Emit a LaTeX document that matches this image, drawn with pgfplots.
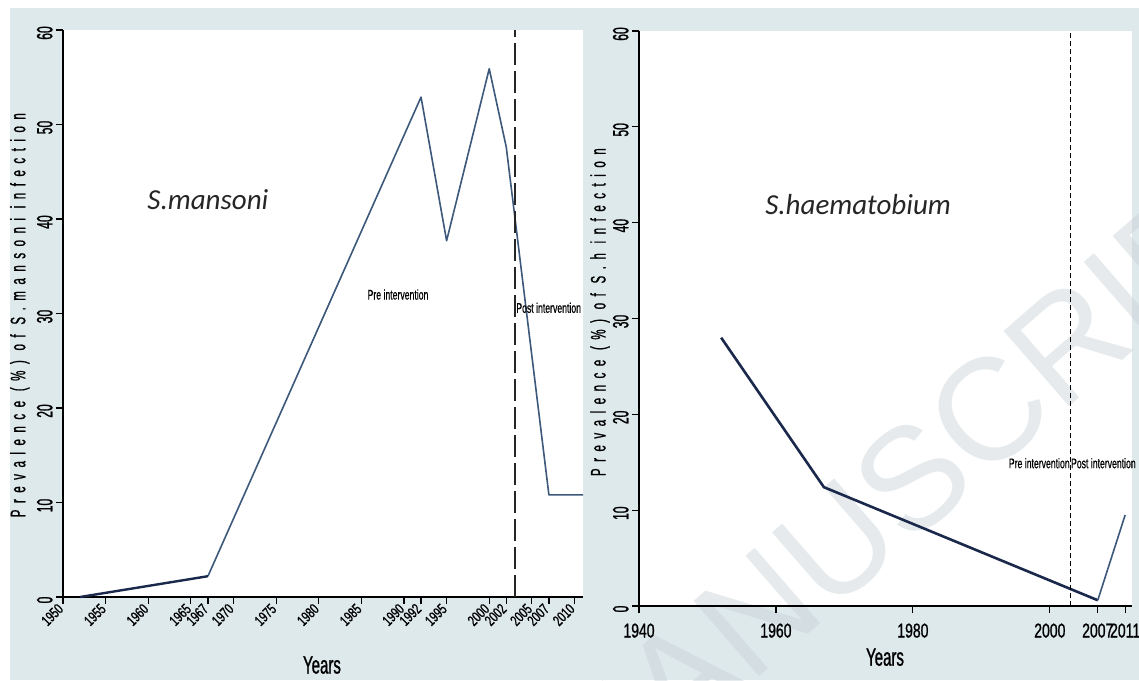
\documentclass[border=0pt]{standalone}
\usepackage{pgfplots}
\pgfplotsset{compat=1.18}
\usepackage{fontspec}
\setmainfont{Liberation Sans}
\newfontfamily\ytickf[FakeStretch=0.55,FakeBold=1]{Liberation Sans}
\newfontfamily\xtickf[FakeStretch=0.7,FakeBold=1]{Liberation Sans}
\newfontfamily\xtickfs[FakeStretch=0.7,FakeBold=1]{Liberation Sans}
\newfontfamily\titlef[FakeStretch=0.55,LetterSpace=31,FakeBold=0.8]{Liberation Sans}
\newfontfamily\yearsf[FakeStretch=0.6,FakeBold=1]{Liberation Sans}
\newfontfamily\annf[FakeStretch=0.62,FakeBold=0.5]{Liberation Sans}
\newfontfamily\spf{Carlito}
\definecolor{bgc}{RGB}{222,233,236}
\definecolor{navy}{RGB}{25,40,75}
\definecolor{steel}{RGB}{60,88,122}
\definecolor{wm}{RGB}{200,210,214}
\begin{document}
\begin{tikzpicture}[x=1pt,y=1pt]
\useasboundingbox (0,0) rectangle (1139,680);
\fill[white] (0,0) rectangle (1139,680);
\fill[bgc] (10,0) rectangle (1139,672);
\fill[white] (639,74) rectangle (1132,649);
\pgfplotsset{
 schisto/.style={
  scale only axis, anchor=south west, clip=false,
  axis lines=left, axis line style={-, black, line width=1.3pt},
  axis background/.style={fill=white},
  tick align=outside, major tick length=7pt,
  every tick/.style={black, line width=1.2pt},
  ymin=0, ymax=60, ytick={0,10,20,30,40,50,60},
  yticklabels={0,10,20,30,40,50,60},
  yticklabel style={font=\fontsize{22}{22}\selectfont\ytickf, rotate=90, anchor=south, xshift=-3pt},
  xlabel={Years},
  xlabel style={font=\fontsize{25}{25}\selectfont\yearsf, anchor=center},
  ylabel style={font=\fontsize{21}{21}\selectfont\titlef, anchor=center, rotate=0},
 }
}
\begin{axis}[schisto, at={(63pt,83pt)}, width=520pt, height=567pt,
  xmin=1950, xmax=2011,
  xtick={1950,1955,1960,1965,1967,1970,1975,1980,1985,1990,1992,1995,2000,2002,2005,2007,2010},
  xticklabels={1950,1955,1960,1965,1967,1970,1975,1980,1985,1990,1992,1995,2000,2002,2005,2007,2010},
  xticklabel style={font=\fontsize{15}{15}\selectfont\xtickfs, rotate=45, anchor=east},
  xlabel style={at={(axis description cs:0.498,-0.12)}},
  ylabel={Prevalence (\%) of S.mansoni infection},
  ylabel style={at={(axis description cs:-0.083,0.497)}},
]
\addplot[steel, line width=1.6pt, line join=round] coordinates {(1967,2.2)(1992,52.9)(1995,37.7)(2000,55.9)(2002,47.6)(2007,10.8)(2011,10.8)};
\addplot[navy, line width=2.4pt] coordinates {(1952,0)(1967,2.2)};
\addplot[black!85, line width=2.2pt, dash pattern=on 22pt off 6pt] coordinates {(2003,0)(2003,60)};
\node[font=\fontsize{29}{29}\selectfont\spf\itshape, text=black!85] at (axis cs:1967,42) {S.mansoni};
\node[font=\fontsize{14}{14}\selectfont\annf] at (axis cs:1989.3,32) {Pre intervention};
\node[font=\fontsize{14}{14}\selectfont\annf, anchor=west, inner sep=0.5pt] at (axis cs:2003.1,30.6) {Post intervention};
\end{axis}
\begin{scope}
\clip (0,0) rectangle (1139,680);
\node[font=\fontsize{145}{145}\selectfont, text=wm, opacity=0.45, rotate=41] at (915,205) {MANUSCRIPT};
\end{scope}
\begin{axis}[schisto, at={(639pt,74pt)}, width=493pt, height=575pt,
  xmin=1940, xmax=2012,
  axis background/.style={},
  xtick={1940,1960,1980,2000,2007,2011},
  xticklabels={1940,1960,1980,2000,2007,2011},
  xticklabel style={font=\fontsize{20}{20}\selectfont\xtickf, anchor=north, yshift=-7pt},
  xlabel style={at={(axis description cs:0.499,-0.089)}},
  ylabel={Prevalence (\%) of S.h infection},
  ylabel style={at={(axis description cs:-0.079,0.511)}},
]
\addplot[navy, line width=2.6pt, line join=round] coordinates {(1952,28)(1967,12.4)(2007,0.6)};
\addplot[steel, line width=1.6pt] coordinates {(2007,0.6)(2011,9.5)};
\addplot[black, line width=1.3pt, dash pattern=on 5pt off 3pt] coordinates {(2003,0)(2003,60)};
\node[font=\fontsize{29}{29}\selectfont\spf\itshape, text=black!85] at (axis cs:1972,41.9) {S.haematobium};
\node[font=\fontsize{14}{14}\selectfont\annf, anchor=east, inner sep=0.5pt] at (axis cs:2003,14.9) {Pre intervention};
\node[font=\fontsize{14}{14}\selectfont\annf, anchor=west, inner sep=0.5pt] at (axis cs:2003,14.9) {Post intervention};
\end{axis}
\end{tikzpicture}
\end{document}
